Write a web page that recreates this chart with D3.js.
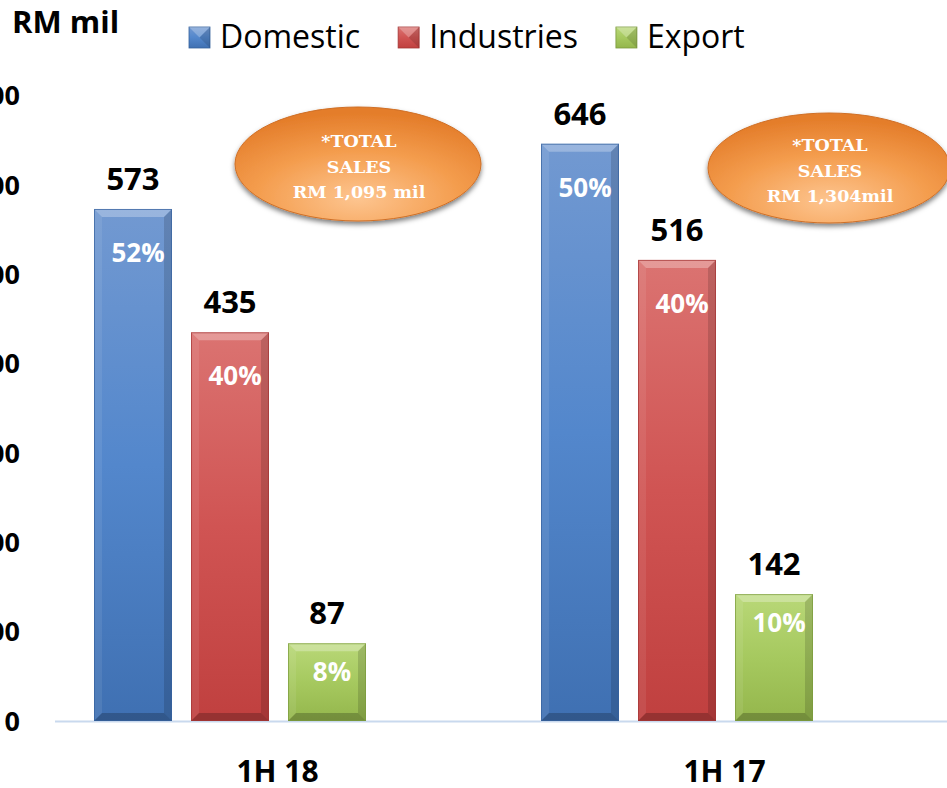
<!DOCTYPE html>
<html>
<head>
<meta charset="utf-8">
<script src="https://cdn.jsdelivr.net/npm/d3@7"></script>
<style>
  html, body { margin: 0; padding: 0; background: #fff; overflow: hidden; }
  svg { display: block; }
</style>
</head>
<body>
<svg id="chart"></svg>
<script>
// chart data
var categories = ["1H 18", "1H 17"];
var seriesNames = ["Domestic", "Industries", "Export"];
var domestic = [573, 646];
var industries = [435, 516];
var exportSales = [87, 142];
var domesticPct = ["52%", "50%"];
var industriesPct = ["40%", "40%"];
var exportPct = ["8%", "10%"];
var yTicks = [0, 100, 200, 300, 400, 500, 600, 700];
var totalLines = [
  ["*TOTAL", "SALES", "RM 1,095 mil"],
  ["*TOTAL", "SALES", "RM 1,304mil"]
];

var width = 947, height = 788;
var svg = d3.select("#chart").attr("width", width).attr("height", height);
var defs = svg.append("defs");

var colors = {
  Domestic:   {top: "#7299d1", mid: "#5387cc", bot: "#3f70b2", edge: "#36619c"},
  Industries: {top: "#db7371", mid: "#d05453", bot: "#c0403f", edge: "#a33534"},
  Export:     {top: "#b9d878", mid: "#a6c95f", bot: "#94b64c", edge: "#7b9a3c"}
};

seriesNames.forEach(function(s){
  var g = defs.append("linearGradient").attr("id", "grad-" + s)
    .attr("x1", 0).attr("y1", 0).attr("x2", 0).attr("y2", 1);
  g.append("stop").attr("offset", "0%").attr("stop-color", colors[s].top);
  g.append("stop").attr("offset", "50%").attr("stop-color", colors[s].mid);
  g.append("stop").attr("offset", "100%").attr("stop-color", colors[s].bot);
});

var eg = defs.append("radialGradient").attr("id", "ellGrad")
  .attr("cx", "50%").attr("cy", "80%").attr("r", "75%");
eg.append("stop").attr("offset", "0%").attr("stop-color", "#fdc590");
eg.append("stop").attr("offset", "55%").attr("stop-color", "#f49d4e");
eg.append("stop").attr("offset", "100%").attr("stop-color", "#e47d2a");

var shadow = defs.append("filter").attr("id", "shadow")
  .attr("x", "-20%").attr("y", "-20%").attr("width", "140%").attr("height", "150%");
shadow.append("feDropShadow").attr("dx", 0).attr("dy", 3).attr("stdDeviation", 2.5)
  .attr("flood-color", "#000").attr("flood-opacity", 0.5);

// scales
var x0 = d3.scaleBand().domain(categories).range([54, 948]);
var x1 = d3.scaleBand().domain(seriesNames).range([40, 312]).paddingInner(0.196);
var y = d3.scaleLinear().domain([0, 700]).range([721, 95.5]);

var rows = [];
categories.forEach(function(c, i){
  rows.push({cat: c, s: "Domestic", v: domestic[i], pct: domesticPct[i]});
  rows.push({cat: c, s: "Industries", v: industries[i], pct: industriesPct[i]});
  rows.push({cat: c, s: "Export", v: exportSales[i], pct: exportPct[i]});
});

// y tick labels (the reference crops them at the left edge)
svg.append("g").selectAll("text").data(yTicks).join("text")
  .attr("x", 20).attr("y", function(d){ return y(d); })
  .attr("dy", "0.36em")
  .attr("text-anchor", "end")
  .style("font-family", "'Open Sans', sans-serif")
  .style("font-weight", 700).style("font-size", "27px").style("fill", "#000")
  .text(function(d){ return d; });

svg.append("text").attr("x", 12).attr("y", 33)
  .style("font-family", "'Open Sans', sans-serif")
  .style("font-weight", 700).style("font-size", "31px")
  .text("RM mil");

// baseline
svg.append("line").attr("x1", 55).attr("x2", 947)
  .attr("y1", y(0) + 0.5).attr("y2", y(0) + 0.5)
  .attr("stroke", "#c9d9ee").attr("stroke-width", 2);

// bars with bevel
var bars = svg.append("g").selectAll("g").data(rows).join("g");
bars.each(function(d){
  var g = d3.select(this);
  var bx = x0(d.cat) + x1(d.s), bw = x1.bandwidth();
  var by = y(d.v), bh = y(0) - y(d.v), b = 8;
  g.append("rect").attr("x", bx).attr("y", by).attr("width", bw).attr("height", bh)
    .attr("fill", "url(#grad-" + d.s + ")");
  var pts = function(a){ return a.map(function(p){ return p.join(","); }).join(" "); };
  g.append("polygon").attr("points", pts([[bx,by],[bx+bw,by],[bx+bw-b,by+b],[bx+b,by+b]]))
    .attr("fill", "#fff").attr("opacity", 0.28);
  g.append("polygon").attr("points", pts([[bx,by],[bx+b,by+b],[bx+b,by+bh-b],[bx,by+bh]]))
    .attr("fill", "#fff").attr("opacity", 0.08);
  g.append("polygon").attr("points", pts([[bx+bw,by],[bx+bw,by+bh],[bx+bw-b,by+bh-b],[bx+bw-b,by+b]]))
    .attr("fill", "#000").attr("opacity", 0.14);
  g.append("polygon").attr("points", pts([[bx,by+bh],[bx+bw,by+bh],[bx+bw-b,by+bh-b],[bx+b,by+bh-b]]))
    .attr("fill", "#000").attr("opacity", 0.22);
  g.append("rect").attr("x", bx + 0.5).attr("y", by + 0.5).attr("width", bw - 1).attr("height", bh - 1)
    .attr("fill", "none").attr("stroke", colors[d.s].edge).attr("stroke-width", 1).attr("opacity", 0.7);

  // value label
  g.append("text").attr("x", bx + bw / 2).attr("y", by - 19)
    .attr("text-anchor", "middle")
    .style("font-family", "'Open Sans', sans-serif")
    .style("font-weight", 700).style("font-size", "31px").style("fill", "#000")
    .text(d.v);
  // share label
  var dy = bh > 200 ? 53 : 38;
  g.append("text").attr("x", bx + bw / 2 + 5).attr("y", by + dy)
    .attr("text-anchor", "middle")
    .style("font-family", "'Open Sans', sans-serif")
    .style("font-weight", 700).style("font-size", "26px").style("fill", "#fff")
    .text(d.pct);
});

// category labels
svg.append("g").selectAll("text").data(categories).join("text")
  .attr("x", function(d){ return x0(d) + x0.bandwidth() / 2; })
  .attr("y", 782)
  .attr("text-anchor", "middle")
  .style("font-family", "'Open Sans', sans-serif")
  .style("font-weight", 700).style("font-size", "30px").style("fill", "#000")
  .text(function(d){ return d; });

// total sales ovals
var ovals = [{cx: 358, cy: 164, rx: 123, ry: 57, ty: 147}, {cx: 829, cy: 168, rx: 121, ry: 55, ty: 151}];
ovals.forEach(function(o, i){
  svg.append("ellipse").attr("cx", o.cx).attr("cy", o.cy).attr("rx", o.rx).attr("ry", o.ry)
    .attr("fill", "url(#ellGrad)").attr("stroke", "#cf6f26").attr("stroke-width", 1)
    .attr("filter", "url(#shadow)");
  svg.append("text").attr("x", o.cx + 1).attr("y", o.ty)
    .attr("text-anchor", "middle")
    .style("font-family", "'DejaVu Serif', serif")
    .style("font-weight", 700).style("font-size", "17.5px").style("fill", "#fff")
    .selectAll("tspan").data(totalLines[i]).join("tspan")
    .attr("x", o.cx + 1).attr("dy", function(d, j){ return j === 0 ? 0 : 25.5; })
    .text(function(d){ return d; });
});

// legend
var lx = 189;
var legend = svg.append("g");
seriesNames.forEach(function(s){
  var sq = 21, sy = 27;
  legend.append("rect").attr("x", lx).attr("y", sy).attr("width", sq).attr("height", sq)
    .attr("fill", "url(#grad-" + s + ")").attr("stroke", colors[s].edge).attr("stroke-width", 0.8);
  legend.append("polygon")
    .attr("points", [[lx,sy],[lx+sq,sy],[lx+sq/2,sy+sq/2]].map(function(p){return p.join(",");}).join(" "))
    .attr("fill", "#fff").attr("opacity", 0.25);
  legend.append("polygon")
    .attr("points", [[lx+sq,sy],[lx+sq,sy+sq],[lx+sq/2,sy+sq/2]].map(function(p){return p.join(",");}).join(" "))
    .attr("fill", "#000").attr("opacity", 0.12);
  var t = legend.append("text").attr("x", lx + 31).attr("y", 48)
    .style("font-family", "'Open Sans', sans-serif")
    .style("font-size", "32px").style("fill", "#000")
    .text(s);
  lx = lx + 31 + t.node().getComputedTextLength() + 38;
});
</script>
</body>
</html>
